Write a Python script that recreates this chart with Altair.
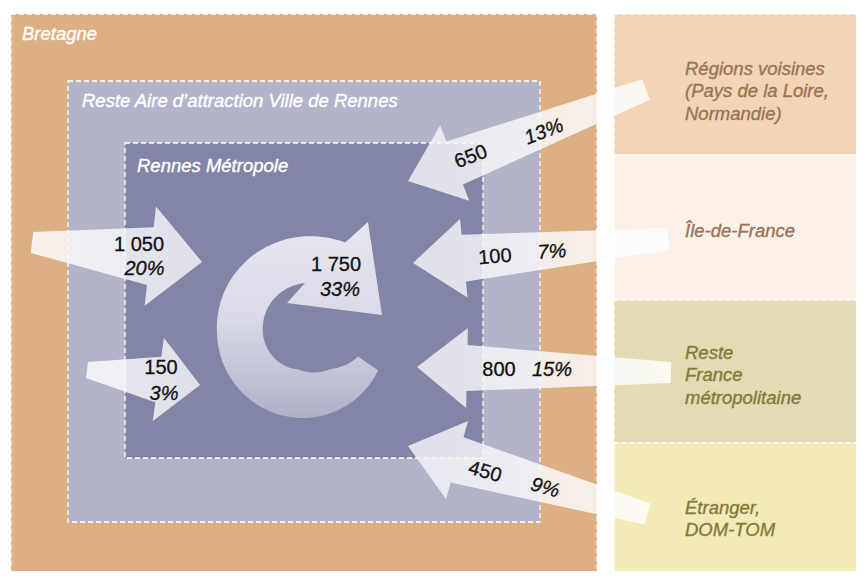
import altair as alt
import numpy as np
import pandas as pd

# ---------------- data ----------------
flow_origin = ["Bretagne", "Reste Aire", "Rennes Métropole", "Régions voisines",
               "Île-de-France", "Reste France", "Étranger"]
flow_value = [1050, 150, 1750, 650, 100, 800, 450]
flow_share = [20, 3, 33, 13, 7, 15, 9]

zone_name = ["Bretagne", "Reste Aire d’attraction Ville de Rennes", "Rennes Métropole"]
outside_name = [["Régions voisines", "(Pays de la Loire,", "Normandie)"],
                ["Île-de-France"],
                ["Reste", "France", "métropolitaine"],
                ["Étranger,", "DOM-TOM"]]

# ---------------- layout (diagram frame, reference pixels) ----------------
FONT = "Liberation Sans, Arial, Helvetica, sans-serif"
X0, X1, Y0, Y1 = 8, 856, 8, 571

zone_box = [(11, 597, 14, 600), (68, 540, 81, 522), (125, 483, 143, 458)]
zone_fill = ["#dcb083", "#b3b4c9", "#8385a7"]
zone_label_pos = [(22, 40), (82, 107), (137, 172)]

outside_box = [(614, 880, 14, 155), (614, 880, 155, 300), (614, 880, 300, 443), (614, 880, 443, 600)]
outside_fill = ["#f2d5b6", "#fbf1e8", "#e2dbb4", "#f2eab7"]
outside_text_color = ["#9a7454", "#9a7454", "#847a3a", "#847a3a"]
outside_first_baseline = [75, 237, 359, 514]
outside_x = 685
LINE_H = 22.3

# straight arrows: tail centre, tip, tail width, neck width, head width, head length
arrow_geom = {
    "Bretagne": ((32, 242.5), (202, 262), 21, 58, 100, 52),
    "Reste Aire": ((87, 370), (200, 385), 16, 46, 84, 42),
    "Régions voisines": ((646, 89.5), (408, 181), 22, 46, 81, 50),
    "Île-de-France": ((668, 239), (413, 263), 22, 47, 79, 51),
    "Reste France": ((671, 372.5), (417, 367), 21, 46, 80, 50),
    "Étranger": ((647.5, 514), (408, 446), 22, 47, 81, 51),
}
# circular arrow (internal flows of Rennes Métropole)
loop_centre = (305, 333)
loop_outer = ([27, 90, 180, 294], [82, 85, 88, 99])
loop_inner = ([24, 55, 100, 193, 270], [58, 44, 37, 43, 50])
loop_head = [(368, 222), (382, 315), (287, 303)]

# label centres and angles
value_pos = {"Bretagne": (139, 245, 0), "Reste Aire": (161, 368, 0), "Rennes Métropole": (336, 265, 0),
             "Régions voisines": (471, 157, 339), "Île-de-France": (495, 257, 356),
             "Reste France": (499, 370, 0), "Étranger": (485, 472, 16)}
share_pos = {"Bretagne": (144.5, 269, 0), "Reste Aire": (164, 394, 0), "Rennes Métropole": (340, 290, 0),
             "Régions voisines": (544, 132, 339), "Île-de-France": (552, 252, 356),
             "Reste France": (552, 370, 0), "Étranger": (545, 488, 16)}

# ---------------- build tables ----------------
rects = pd.DataFrame(
    [dict(x=b[0], x2=b[1], y=b[2], y2=b[3], fill=f) for b, f in zip(zone_box + outside_box, zone_fill + outside_fill)]
)

rows = []
for name, (tail, tip, wt, wn, wh, hl) in arrow_geom.items():
    t = np.array(tail, float)
    p = np.array(tip, float)
    u = (p - t) / np.linalg.norm(p - t)
    n = np.array([-u[1], u[0]])
    neck = p - hl * u
    pts = [t + wt / 2 * n, neck + wn / 2 * n, neck + wh / 2 * n, p,
           neck - wh / 2 * n, neck - wn / 2 * n, t - wt / 2 * n]
    side = "right" if tip[0] > tail[0] else "left"
    for i, q in enumerate(pts):
        rows.append(dict(arrow=name, side=side, i=i, x=q[0], y=q[1]))
arrows = pd.DataFrame(rows)

cx, cy = loop_centre
loop_pts = []
for th in np.arange(loop_outer[0][0], loop_outer[0][-1] + 0.1, 3.0):
    r = np.interp(th, *loop_outer)
    loop_pts.append((cx + r * np.cos(np.radians(th)), cy + r * np.sin(np.radians(th))))
loop_pts += loop_head
for th in np.arange(loop_inner[0][-1], loop_inner[0][0] - 0.1, -3.0):
    r = np.interp(th, *loop_inner)
    loop_pts.append((cx + r * np.cos(np.radians(th)), cy + r * np.sin(np.radians(th))))
loop = pd.DataFrame([dict(i=i, x=q[0], y=q[1]) for i, q in enumerate(loop_pts)])

zone_labels = pd.DataFrame([dict(text=t, x=p[0], y=p[1]) for t, p in zip(zone_name, zone_label_pos)])
out_rows = []
for lines, col, y0 in zip(outside_name, outside_text_color, outside_first_baseline):
    for k, line in enumerate(lines):
        out_rows.append(dict(text=line, x=outside_x, y=y0 + k * LINE_H, col=col))
outside_labels = pd.DataFrame(out_rows)

values = pd.DataFrame([dict(text=f"{v:,}".replace(",", " "), x=value_pos[o][0], y=value_pos[o][1],
                            angle=value_pos[o][2]) for o, v in zip(flow_origin, flow_value)])
shares = pd.DataFrame([dict(text=f"{s}%", x=share_pos[o][0], y=share_pos[o][1],
                            angle=share_pos[o][2]) for o, s in zip(flow_origin, flow_share)])

# ---------------- chart ----------------
xs = alt.Scale(domain=[X0, X1], nice=False, zero=False)
ys = alt.Scale(domain=[Y0, Y1], nice=False, zero=False, reverse=True)
X = lambda f="x": alt.X(f"{f}:Q", scale=xs, axis=None)
Y = lambda f="y": alt.Y(f"{f}:Q", scale=ys, axis=None)

rect_layer = alt.Chart(rects).mark_rect(
    stroke="white", strokeDash=[5, 3], strokeWidth=1.3, clip=True
).encode(x=X(), x2="x2:Q", y=Y(), y2="y2:Q", fill=alt.Fill("fill:N", scale=None))


def grad(x1, y1, x2, y2, c0, c1):
    return alt.LinearGradient(gradient="linear", x1=x1, y1=y1, x2=x2, y2=y2,
                              stops=[alt.GradientStop(color=c0, offset=0),
                                     alt.GradientStop(color=c1, offset=1)])


arrow_right = alt.Chart(arrows).transform_filter(alt.datum.side == "right").mark_line(
    filled=True, strokeWidth=0, opacity=0.82, fill=grad(0, 0, 1, 0, "#ffffff", "#f4f4f9")
).encode(x=X(), y=Y(), detail="arrow:N", order="i:Q")

arrow_left = alt.Chart(arrows).transform_filter(alt.datum.side == "left").mark_line(
    filled=True, strokeWidth=0, opacity=0.82, fill=grad(0, 0, 1, 0, "#f4f4f9", "#ffffff")
).encode(x=X(), y=Y(), detail="arrow:N", order="i:Q")

loop_layer = alt.Chart(loop).mark_line(
    filled=True, strokeWidth=0,
    fill=alt.LinearGradient(gradient="linear", x1=0, y1=0, x2=0, y2=1,
                            stops=[alt.GradientStop(color="#e6e7f0", offset=0),
                                   alt.GradientStop(color="#d9dae6", offset=0.5),
                                   alt.GradientStop(color="#aeb0c7", offset=1)])
).encode(x=X(), y=Y(), order="i:Q")

zone_text = alt.Chart(zone_labels).mark_text(
    align="left", baseline="alphabetic", font=FONT, fontStyle="italic", fontSize=18.5, color="white",
    stroke="white", strokeWidth=0.35
).encode(x=X(), y=Y(), text="text:N")

outside_text = alt.Chart(outside_labels).mark_text(
    align="left", baseline="alphabetic", font=FONT, fontStyle="italic", fontSize=18.5, strokeWidth=0.35
).encode(x=X(), y=Y(), text="text:N", color=alt.Color("col:N", scale=None),
         stroke=alt.Stroke("col:N", scale=None))

value_text = alt.Chart(values).mark_text(
    align="center", baseline="middle", font=FONT, fontSize=20, color="#111111",
    stroke="#111111", strokeWidth=0.3
).encode(x=X(), y=Y(), text="text:N", angle=alt.Angle("angle:Q", scale=None))

share_text = alt.Chart(shares).mark_text(
    align="center", baseline="middle", font=FONT, fontSize=20, fontStyle="italic", color="#111111",
    stroke="#111111", strokeWidth=0.3
).encode(x=X(), y=Y(), text="text:N", angle=alt.Angle("angle:Q", scale=None))

chart = alt.layer(
    rect_layer, loop_layer, arrow_right, arrow_left, zone_text, outside_text, value_text, share_text
).properties(
    width=X1 - X0, height=Y1 - Y0, padding=0, autosize=alt.AutoSizeParams(type="none"),
    background="white"
).configure_view(stroke=None)

chart.save("out.html", embed_options={"renderer": "svg", "actions": False})
